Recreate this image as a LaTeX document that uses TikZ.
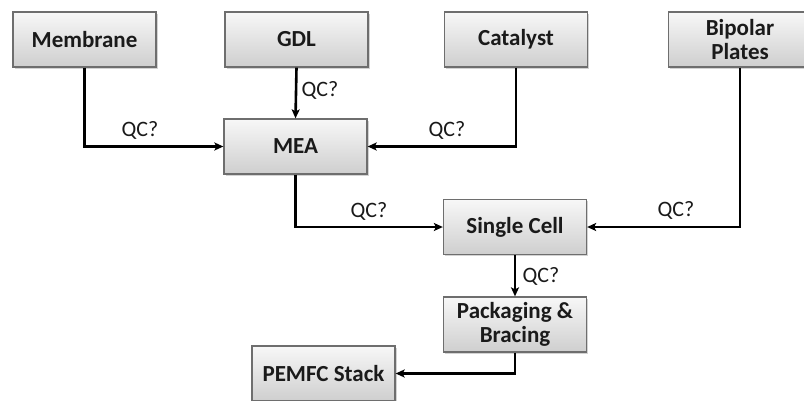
\documentclass[tikz,border=0pt]{standalone}
\usepackage{fontspec}
\setmainfont{Carlito}
\usetikzlibrary{arrows.meta,shadows,calc}
\definecolor{txt}{HTML}{1A1A1A}
\definecolor{bord}{HTML}{6E6E6E}
\tikzset{
  box/.style={draw=bord, line width=1.3pt, top color=gray!6, bottom color=gray!38,
    minimum width=143pt, minimum height=55pt, inner sep=0pt, align=center,
    font=\fontsize{23}{25}\selectfont\bfseries, text=txt,
    drop shadow={shadow xshift=1.5pt, shadow yshift=-1.5pt, opacity=0.35, fill=gray}},
  conn/.style={line width=2.6pt, -{Stealth[length=9pt,width=8pt,inset=2pt]}, line join=miter},
  qc/.style={font=\fontsize{22}{24}\selectfont, text=txt, inner sep=0pt}
}
\begin{document}
\begin{tikzpicture}[x=1pt,y=-1pt]
\useasboundingbox (0,0) rectangle (804,400);
\begin{scope}
\clip (0,0) rectangle (804,400);
\node[box] (mem) at (84.5,39.5) {Membrane};
\node[box] (gdl) at (296.5,39.5) {GDL};
\node[box] (cat) at (516,39.5) {Catalyst};
\node[box] (bip) at (740,39.5) {Bipolar\\[-1pt]Plates};
\node[box] (mea) at (295.5,146.5) {MEA};
\node[box] (sc) at (515,227) {Single Cell};
\node[box] (pack) at (515,324.5) {Packaging \&\\[-1pt]Bracing};
\node[box] (stack) at (323.5,373.5) {PEMFC Stack};
\end{scope}

\draw[conn] (mem.south) |- (mea.west);
\draw[conn] (gdl.south) -- (mea.north);
\draw[conn] (cat.south) |- (mea.east);
\draw[conn] (mea.south) |- (sc.west);
\draw[conn] (bip.south) |- (sc.east);
\draw[conn] (sc.south) -- (pack.north);
\draw[conn] (pack.south) |- (stack.east);

\node[qc] (q1) at (140,130) {QC?};
\node[qc] (q2) at (320,90) {QC?};
\node[qc] (q3) at (447,130) {QC?};
\node[qc] (q4) at (369,211) {QC?};
\node[qc] (q5) at (676,210) {QC?};
\node[qc] (q6) at (541,276) {QC?};
\end{tikzpicture}
\end{document}
